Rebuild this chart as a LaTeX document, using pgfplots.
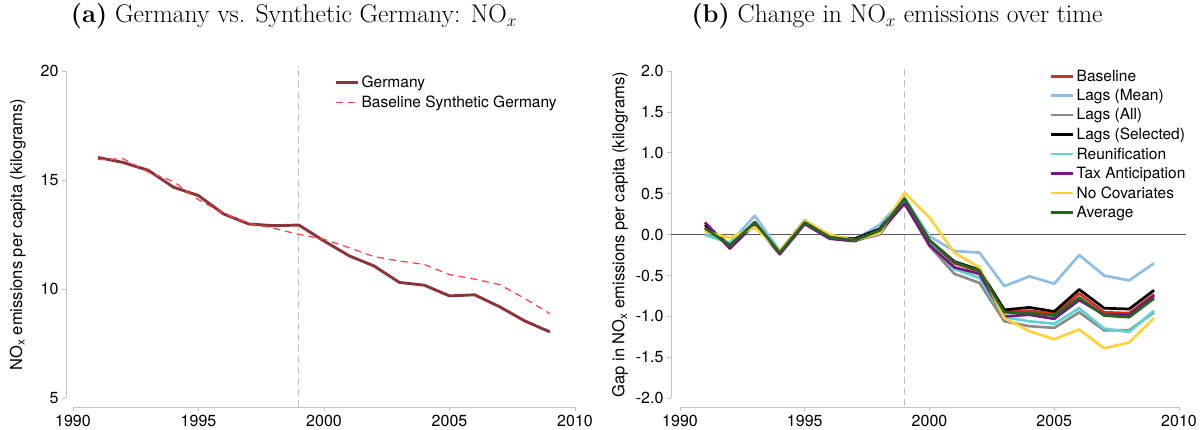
\documentclass[border=0pt]{standalone}
\usepackage{fontspec}
\newfontfamily\helv{TeX Gyre Heros}
\usepackage{pgfplots}
\pgfplotsset{compat=1.18}
\definecolor{germ}{RGB}{140,52,60}
\definecolor{synth}{RGB}{255,60,60}
\definecolor{cbase}{RGB}{215,45,35}
\definecolor{cmean}{RGB}{140,190,230}
\definecolor{call}{RGB}{140,140,140}
\definecolor{csel}{RGB}{0,0,0}
\definecolor{creu}{RGB}{95,210,210}
\definecolor{ctax}{RGB}{115,25,125}
\definecolor{cnocov}{RGB}{255,210,60}
\definecolor{cavg}{RGB}{40,100,30}
\definecolor{axgray}{RGB}{195,195,195}
\newcommand{\sz}{\helv\fontsize{16}{19}\selectfont}
\newcommand{\lsz}{\helv\fontsize{15.5}{18}\selectfont}
\newcommand{\ysz}{\helv\fontsize{16.5}{19}\selectfont}
\pgfplotsset{
  statastyle/.style={
    scale only axis,
    clip=false,
    axis x line*=bottom,
    axis y line*=left,
    axis line style={axgray, line width=0.9pt},
    every tick/.style={axgray, line width=0.9pt},
    major tick length=4pt,
    tick align=outside,
    xmin=1990, xmax=2010,
    xtick={1990,1995,2000,2005,2010},
    /pgf/number format/assume math mode=true,
    /pgf/number format/1000 sep={},
    ticklabel style={font=\sz},
    axis x line shift=9pt,
    legend cell align=left,
    legend image code/.code={\draw[##1] (0pt,0pt) -- (22pt,0pt);},
  }
}
\begin{document}
\begin{tikzpicture}[x=1pt,y=1pt]
\path (0,0) rectangle (1202,429);
\node at (294,413) {\fontsize{25.6}{29}\selectfont\textbf{(a)} Germany vs. Synthetic Germany: NO$_x$};
\node at (897,413) {\fontsize{25.6}{29}\selectfont\textbf{(b)} Change in NO$_x$ emissions over time};
\begin{axis}[statastyle,
  at={(73pt,31pt)}, anchor=south west,
  width=502pt, height=327pt,
  ymin=5, ymax=20, ytick={5,10,15,20},
  axis y line shift=7pt,
  every axis y label/.style={at={(axis description cs:-0.11,0.5)}, rotate=90, anchor=center, font=\ysz},
  ylabel={NO\textsubscript{x} emissions per capita (kilograms)},
  legend style={at={(axis description cs:0.515,0.998)}, anchor=north west, draw=none, fill=none, font=\lsz, row sep=2.5pt},
]
\draw[black!25, line width=0.9pt, dash pattern=on 7pt off 4pt] (axis cs:1999,4.6) -- (axis cs:1999,20.25);
\addplot[germ, line width=2.9pt, line join=round] coordinates {
(1991,16.04) (1992,15.81) (1993,15.45) (1994,14.68) (1995,14.29) (1996,13.45) (1997,12.99) (1998,12.91) (1999,12.94) (2000,12.21) (2001,11.53) (2002,11.06) (2003,10.31) (2004,10.18) (2005,9.69) (2006,9.74) (2007,9.19) (2008,8.54) (2009,8.04)};
\addlegendentry{Germany}
\addplot[synth, line width=1.2pt, dash pattern=on 7pt off 5pt] coordinates {
(1991,15.94) (1992,15.98) (1993,15.37) (1994,14.94) (1995,14.10) (1996,13.48) (1997,13.02) (1998,12.79) (1999,12.51) (2000,12.29) (2001,11.90) (2002,11.49) (2003,11.29) (2004,11.13) (2005,10.67) (2006,10.46) (2007,10.21) (2008,9.57) (2009,8.88)};
\addlegendentry{Baseline Synthetic Germany}
\end{axis}
\begin{axis}[statastyle,
  at={(680pt,31pt)}, anchor=south west,
  width=499pt, height=327pt,
  ymin=-2, ymax=2, ytick={-2,-1.5,...,2},
  yticklabel style={/pgf/number format/.cd, fixed, fixed zerofill, precision=1},
  axis y line shift=9pt,
  every axis y label/.style={at={(axis description cs:-0.12,0.5)}, rotate=90, anchor=center, font=\ysz},
  ylabel={Gap in NO\textsubscript{x} emissions per capita (kilograms)},
  legend style={at={(axis description cs:0.735,1.017)}, anchor=north west, draw=none, fill=none, font=\lsz, row sep=2.6pt},
]
\draw[black!25, line width=0.9pt, dash pattern=on 7pt off 4pt] (axis cs:1999,-2.1) -- (axis cs:1999,2.05);
\draw[black!65, line width=0.9pt] (axis cs:1989.64,0) -- (axis cs:2010.28,0);
\addplot[cbase, line width=2.7pt, line join=round] coordinates {
(1991,0.09) (1992,-0.14) (1993,0.15) (1994,-0.22) (1995,0.15) (1996,-0.03) (1997,-0.06) (1998,0.05) (1999,0.43) (2000,-0.08) (2001,-0.35) (2002,-0.45) (2003,-0.94) (2004,-0.93) (2005,-0.97) (2006,-0.72) (2007,-0.95) (2008,-0.96) (2009,-0.73)};
\addlegendentry{Baseline}
\addplot[cmean, line width=2.7pt, line join=round] coordinates {
(1991,0.0) (1992,-0.10) (1993,0.23) (1994,-0.20) (1995,0.18) (1996,-0.02) (1997,-0.06) (1998,0.12) (1999,0.45) (2000,-0.02) (2001,-0.20) (2002,-0.22) (2003,-0.63) (2004,-0.51) (2005,-0.60) (2006,-0.25) (2007,-0.50) (2008,-0.56) (2009,-0.35)};
\addlegendentry{Lags (Mean)}
\addplot[call, line width=2.7pt, line join=round] coordinates {
(1991,0.05) (1992,-0.12) (1993,0.14) (1994,-0.22) (1995,0.15) (1996,-0.03) (1997,-0.07) (1998,0.0) (1999,0.42) (2000,-0.14) (2001,-0.48) (2002,-0.59) (2003,-1.06) (2004,-1.12) (2005,-1.14) (2006,-0.95) (2007,-1.17) (2008,-1.17) (2009,-0.95)};
\addlegendentry{Lags (All)}
\addplot[csel, line width=2.7pt, line join=round] coordinates {
(1991,0.12) (1992,-0.13) (1993,0.15) (1994,-0.22) (1995,0.15) (1996,-0.03) (1997,-0.05) (1998,0.07) (1999,0.43) (2000,-0.07) (2001,-0.33) (2002,-0.43) (2003,-0.92) (2004,-0.89) (2005,-0.94) (2006,-0.67) (2007,-0.90) (2008,-0.91) (2009,-0.68)};
\addlegendentry{Lags (Selected)}
\addplot[creu, line width=2.7pt, line join=round] coordinates {
(1991,0.0) (1992,-0.10) (1993,0.14) (1994,-0.20) (1995,0.17) (1996,-0.03) (1997,-0.07) (1998,0.05) (1999,0.43) (2000,-0.10) (2001,-0.42) (2002,-0.53) (2003,-1.01) (2004,-1.06) (2005,-1.09) (2006,-0.90) (2007,-1.15) (2008,-1.19) (2009,-0.93)};
\addlegendentry{Reunification}
\addplot[ctax, line width=2.7pt, line join=round] coordinates {
(1991,0.15) (1992,-0.17) (1993,0.13) (1994,-0.24) (1995,0.13) (1996,-0.05) (1997,-0.08) (1998,0.03) (1999,0.38) (2000,-0.13) (2001,-0.40) (2002,-0.48) (2003,-1.00) (2004,-0.98) (2005,-1.03) (2006,-0.80) (2007,-0.98) (2008,-0.98) (2009,-0.75)};
\addlegendentry{Tax Anticipation}
\addplot[cnocov, line width=2.7pt, line join=round] coordinates {
(1991,0.04) (1992,-0.04) (1993,0.09) (1994,-0.20) (1995,0.17) (1996,0.0) (1997,-0.07) (1998,0.02) (1999,0.51) (2000,0.21) (2001,-0.22) (2002,-0.40) (2003,-1.02) (2004,-1.18) (2005,-1.28) (2006,-1.16) (2007,-1.39) (2008,-1.32) (2009,-1.02)};
\addlegendentry{No Covariates}
\addplot[cavg, line width=2.7pt, line join=round] coordinates {
(1991,0.08) (1992,-0.13) (1993,0.15) (1994,-0.22) (1995,0.15) (1996,-0.03) (1997,-0.07) (1998,0.05) (1999,0.44) (2000,-0.07) (2001,-0.34) (2002,-0.44) (2003,-0.95) (2004,-0.96) (2005,-0.99) (2006,-0.77) (2007,-0.99) (2008,-1.01) (2009,-0.78)};
\addlegendentry{Average}
\end{axis}
\end{tikzpicture}
\end{document}
